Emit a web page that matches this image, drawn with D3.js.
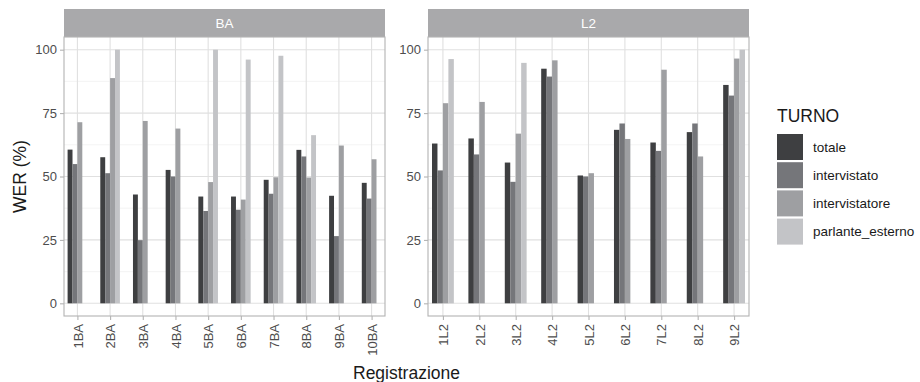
<!DOCTYPE html>
<html>
<head>
<meta charset="utf-8">
<script src="https://cdn.jsdelivr.net/npm/d3@7"></script>
<style>
  body { margin: 0; background: #fff; }
  text { font-family: "Liberation Sans", Arial, sans-serif; }
</style>
</head>
<body>
<div id="chart"></div>
<script>
// fill levels (legend order)
const turni = ["totale", "intervistato", "intervistatore", "parlante_esterno"];
const turnoColors = ["#3e3f41", "#75767a", "#9e9fa2", "#c3c4c7"];

// panel BA
const regBA = ["1BA", "2BA", "3BA", "4BA", "5BA", "6BA", "7BA", "8BA", "9BA", "10BA"];
const totaleBA = [60.6, 57.6, 42.9, 52.6, 42.1, 42.1, 48.7, 60.5, 42.4, 47.5];
const intervistatoBA = [54.9, 51.3, 24.9, 50.0, 36.4, 36.9, 43.2, 57.9, 26.5, 41.3];
const intervistatoreBA = [71.4, 88.8, 71.9, 68.9, 47.8, 40.9, 49.7, 49.6, 62.2, 56.8];
const parlanteBA = [null, 100, null, null, 100, 96.1, 97.6, 66.3, null, null];

// panel L2
const regL2 = ["1L2", "2L2", "3L2", "4L2", "5L2", "6L2", "7L2", "8L2", "9L2"];
const totaleL2 = [63.0, 65.0, 55.5, 92.5, 50.4, 68.4, 63.4, 67.5, 86.1];
const intervistatoL2 = [52.4, 58.7, 47.9, 89.4, 50.0, 70.9, 60.1, 70.9, 81.9];
const intervistatoreL2 = [78.9, 79.4, 66.9, 95.8, 51.3, 64.8, 92.1, 57.9, 96.5];
const parlanteL2 = [96.3, null, 94.8, null, null, null, null, null, 100];

const yTicks = [0, 25, 50, 75, 100];
const yMinor = [12.5, 37.5, 62.5, 87.5];

const panels = [
    { name: "BA", cats: regBA, series: [totaleBA, intervistatoBA, intervistatoreBA, parlanteBA], x0: 64, x1: 385 },
    { name: "L2", cats: regL2, series: [totaleL2, intervistatoL2, intervistatoreL2, parlanteL2], x0: 428, x1: 749 }
];

const W = 920, H = 382;
const stripTop = 9, panelTop = 37, panelBottom = 316;

const svg = d3.select("#chart").append("svg")
    .attr("width", W)
    .attr("height", H);

const y = d3.scaleLinear()
    .domain([-5, 105])
    .range([panelBottom, panelTop]);

panels.forEach(p => {
    const g = svg.append("g");

    const x = d3.scalePoint()
        .domain(p.cats)
        .range([p.x0, p.x1])
        .padding(0.41);

    const groupW = x.step() * 0.6;
    const dodge = d3.scaleBand()
        .domain(turni)
        .range([-groupW / 2, groupW / 2]);

    // strip
    g.append("rect")
        .attr("x", p.x0).attr("y", stripTop)
        .attr("width", p.x1 - p.x0).attr("height", panelTop - stripTop)
        .attr("fill", "#a9a9ab");
    g.append("text")
        .attr("x", (p.x0 + p.x1) / 2).attr("y", (stripTop + panelTop) / 2)
        .attr("dy", "0.35em")
        .attr("text-anchor", "middle")
        .attr("fill", "#fff")
        .style("font-size", "13.5px")
        .text(p.name);

    // grid
    g.selectAll(".minor").data(yMinor).join("line")
        .attr("x1", p.x0).attr("x2", p.x1)
        .attr("y1", d => y(d)).attr("y2", d => y(d))
        .attr("stroke", "#ececec").attr("stroke-width", 0.6);
    g.selectAll(".major").data(yTicks).join("line")
        .attr("x1", p.x0).attr("x2", p.x1)
        .attr("y1", d => y(d)).attr("y2", d => y(d))
        .attr("stroke", "#e0e0e0").attr("stroke-width", 1.1);
    g.selectAll(".vgrid").data(p.cats).join("line")
        .attr("x1", d => x(d)).attr("x2", d => x(d))
        .attr("y1", panelTop).attr("y2", panelBottom)
        .attr("stroke", "#e0e0e0").attr("stroke-width", 1.1);

    // bars
    p.series.forEach((vals, si) => {
        const rows = p.cats.map((c, i) => ({ cat: c, v: vals[i] })).filter(d => d.v != null);
        g.selectAll(null).data(rows).join("rect")
            .attr("x", d => x(d.cat) + dodge(turni[si]))
            .attr("width", dodge.bandwidth())
            .attr("y", d => y(d.v))
            .attr("height", d => y(0) - y(d.v))
            .attr("fill", turnoColors[si]);
    });

    // border
    g.append("rect")
        .attr("x", p.x0).attr("y", panelTop)
        .attr("width", p.x1 - p.x0).attr("height", panelBottom - panelTop)
        .attr("fill", "none")
        .attr("stroke", "#b3b3b3").attr("stroke-width", 1.1);

    // y axis
    const yAxis = g.append("g")
        .attr("transform", `translate(${p.x0},0)`)
        .call(d3.axisLeft(y).tickValues(yTicks).tickSize(4).tickPadding(3));
    yAxis.select(".domain").remove();
    yAxis.selectAll(".tick line").attr("stroke", "#b3b3b3").attr("stroke-width", 1.1);
    yAxis.selectAll(".tick text")
        .attr("fill", "#4d4d4d")
        .style("font-size", "13px")
        .style("font-family", "'Liberation Sans', Arial, sans-serif");

    // x axis
    const xAxis = g.append("g")
        .attr("transform", `translate(0,${panelBottom})`)
        .call(d3.axisBottom(x).tickSize(4).tickPadding(3));
    xAxis.select(".domain").remove();
    xAxis.selectAll(".tick line").attr("stroke", "#b3b3b3").attr("stroke-width", 1.1);
    xAxis.selectAll(".tick text")
        .attr("fill", "#4d4d4d")
        .style("font-size", "13px")
        .style("font-family", "'Liberation Sans', Arial, sans-serif")
        .attr("text-anchor", "end")
        .attr("transform", "rotate(-90)")
        .attr("x", -8)
        .attr("y", 0)
        .attr("dy", "0.36em");
});

// axis titles
svg.append("text")
    .attr("x", (panels[0].x0 + panels[1].x1) / 2)
    .attr("y", 379)
    .attr("text-anchor", "middle")
    .style("font-size", "17.5px")
    .attr("fill", "#1a1a1a")
    .text("Registrazione");

svg.append("text")
    .attr("transform", `translate(26,${(panelTop + panelBottom) / 2}) rotate(-90)`)
    .attr("text-anchor", "middle")
    .style("font-size", "17.5px")
    .attr("fill", "#1a1a1a")
    .text("WER (%)");

// legend
const legend = svg.append("g").attr("transform", "translate(777,0)");
legend.append("text")
    .attr("x", 0).attr("y", 122)
    .style("font-size", "17.5px")
    .attr("fill", "#1a1a1a")
    .text("TURNO");

const keys = legend.selectAll(".key").data(turni).join("g")
    .attr("transform", (d, i) => `translate(0,${134 + i * 28.2})`);
keys.append("rect")
    .attr("width", 26).attr("height", 26)
    .attr("fill", (d, i) => turnoColors[i]);
keys.append("text")
    .attr("x", 36).attr("y", 13)
    .attr("dy", "0.35em")
    .style("font-size", "13.5px")
    .attr("fill", "#1a1a1a")
    .text(d => d);
</script>
</body>
</html>
